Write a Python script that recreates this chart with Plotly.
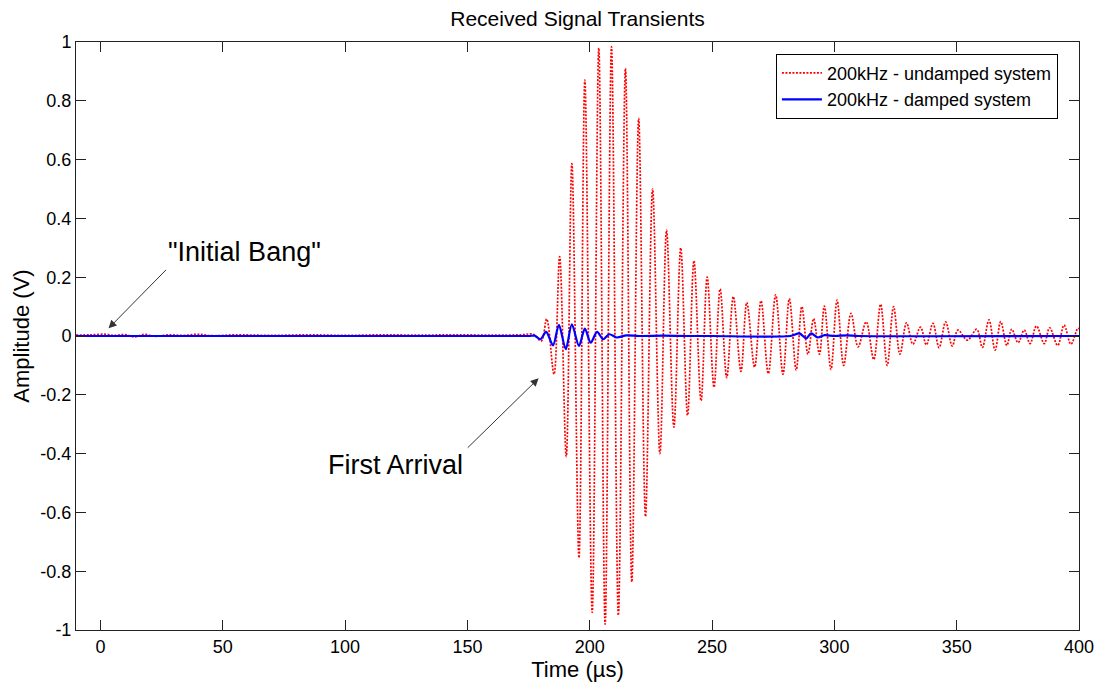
import plotly.graph_objects as go

# Undamped system (red dotted) - readings of the trace (time in µs, amplitude in V)
t_undamped = [-10, -4, 2, 6, 10, 14, 18, 22, 28, 34, 40, 46, 55, 70, 85, 100, 115, 130, 145, 160, 172, 177,
              180.2, 182.4, 185.4, 187.7, 190.4, 192.7, 195.6, 198.0, 201.0, 203.7, 206.3, 208.9, 211.7, 214.6,
              217.2, 220.0, 222.8, 225.7, 228.7, 231.4, 234.4, 237.2, 240.0, 242.6, 245.5, 248.0, 250.8, 253.3,
              256.0, 258.7, 261.8, 264.2, 267.4, 270.0, 273.0, 276.0, 279.0, 281.6, 284.4, 286.7, 289.2, 291.5,
              293.9, 295.9, 298.6, 301.1, 303.8, 306.8, 309.7, 313.0, 316.1, 318.9, 321.6, 324.2, 326.8, 329.5,
              332.1, 335.2, 337.6, 340.3, 342.8, 345.5, 348.2, 350.5, 354.4, 358.2, 360.5, 363.2, 365.7, 368.0,
              370.5, 372.5, 375.1, 377.6, 380.0, 382.6, 385.8, 388.0, 391.3, 393.9, 396.7, 399.5, 400.0]
v_undamped = [0.003, 0.004, 0.006, 0.002, 0.005, -0.003, 0.006, -0.001, 0.004, 0.002, 0.006, 0.001, 0.004, 0.002,
              0.004, 0.002, 0.004, 0.003, 0.004, 0.003, 0.004, 0.006,
              -0.017, 0.058, -0.13, 0.27, -0.41, 0.586, -0.754, 0.87, -0.94, 0.98, -0.98, 0.984, -0.95, 0.91,
              -0.836, 0.74, -0.614, 0.50, -0.40, 0.36, -0.31, 0.30, -0.27, 0.256, -0.22, 0.20, -0.174, 0.16,
              -0.142, 0.134, -0.12, 0.114, -0.106, 0.12, -0.128, 0.14, -0.13, 0.127, -0.116, 0.10, -0.062, 0.059,
              -0.062, 0.102, -0.114, 0.122, -0.10, 0.077, -0.037, 0.048, -0.08, 0.108, -0.10, 0.10, -0.062, 0.045,
              -0.028, 0.03, -0.03, 0.043, -0.04, 0.048, -0.034, 0.02, -0.014, 0.023, -0.039, 0.055, -0.048, 0.049,
              -0.032, 0.023, -0.023, 0.02, -0.026, 0.034, -0.026, 0.028, -0.032, 0.037, -0.028, 0.026, 0.024]

# Damped system (blue solid)
t_damped = [-10, 175, 177.5, 179.8, 182.2, 185.0, 187.4, 190.2, 192.7, 195.6, 198.0, 200.4, 203.0, 205.5,
            208.0, 211.0, 215, 220, 230, 240, 250, 282, 285.7, 288.5, 290.5, 293.2, 296, 300, 305, 310, 400]
v_damped = [0, 0, 0.001, -0.011, 0.014, -0.032, 0.038, -0.045, 0.04, -0.034, 0.025, -0.023, 0.014, -0.011,
            0.006, -0.005, 0.002, 0.0, 0.001, 0.0, 0.0, 0.0, 0.009, -0.008, 0.009, -0.005, 0.003, 0.0, 0.002,
            0.0, 0.0]

series_names = ["200kHz - undamped system", "200kHz - damped system"]
x_ticks = [0, 50, 100, 150, 200, 250, 300, 350, 400]
y_ticks = [-1, -0.8, -0.6, -0.4, -0.2, 0, 0.2, 0.4, 0.6, 0.8, 1]
y_ticktext = ["-1", "-0.8", "-0.6", "-0.4", "-0.2", "0", "0.2", "0.4", "0.6", "0.8", "1"]

FONT = "Liberation Sans, Arial, sans-serif"

fig = go.Figure()
fig.add_trace(go.Scatter(x=t_undamped, y=v_undamped, mode="lines", name=series_names[0],
                         line=dict(color="#FF0000", width=1.7, dash="2px,1.5px", shape="spline", smoothing=1.0)))
fig.add_trace(go.Scatter(x=t_damped, y=v_damped, mode="lines", name=series_names[1],
                         line=dict(color="#0000FF", width=2.2, shape="spline", smoothing=0.8)))

axis_common = dict(showline=True, linecolor="#222222", linewidth=1, mirror="ticks", ticks="inside",
                   ticklen=10, tickcolor="#222222", showgrid=False, zeroline=False, automargin=False,
                   tickfont=dict(family=FONT, size=18, color="black"))

fig.update_xaxes(range=[-10, 400], tickvals=x_ticks, ticklabeloverflow="allow",
                 title=dict(text="Time (µs)", font=dict(family=FONT, size=22, color="black"), standoff=0),
                 **axis_common)
fig.update_yaxes(range=[-1, 1], tickvals=y_ticks, ticktext=y_ticktext,
                 title=dict(text="Amplitude (V)", font=dict(family=FONT, size=22, color="black"), standoff=4),
                 **axis_common)

# Annotations: arrows (no text) and labels
fig.add_annotation(x=3.3, y=0.026, ax=27.4, ay=0.23, axref="x", ayref="y", text="", showarrow=True,
                   arrowhead=2, arrowsize=1.6, arrowwidth=1, arrowcolor="#333333", standoff=0)
fig.add_annotation(x=59, y=0.287, text='"Initial Bang"', showarrow=False,
                   font=dict(family=FONT, size=27, color="black"))
fig.add_annotation(x=179.1, y=-0.144, ax=149.5, ay=-0.385, axref="x", ayref="y", text="", showarrow=True,
                   arrowhead=2, arrowsize=1.6, arrowwidth=1, arrowcolor="#333333", standoff=0)
fig.add_annotation(x=120.5, y=-0.439, text="First Arrival", showarrow=False,
                   font=dict(family=FONT, size=27, color="black"))

fig.update_layout(
    width=1099, height=682,
    margin=dict(l=76, r=20, t=42, b=52, autoexpand=False),
    paper_bgcolor="white", plot_bgcolor="white",
    title=dict(text="Received Signal Transients", xref="paper", x=0.5, xanchor="center",
               y=1 - 19 / 682, yanchor="middle", font=dict(family=FONT, size=21, color="black")),
    legend=dict(x=0.979, y=0.98, xanchor="right", yanchor="top", bgcolor="white",
                bordercolor="black", borderwidth=1, font=dict(family=FONT, size=18, color="black"),
                tracegroupgap=0, itemwidth=40),
    showlegend=True,
)

fig.write_html("out.html", config={"displayModeBar": False},
               post_script="document.body.style.margin='0';document.body.style.overflow='hidden';")
